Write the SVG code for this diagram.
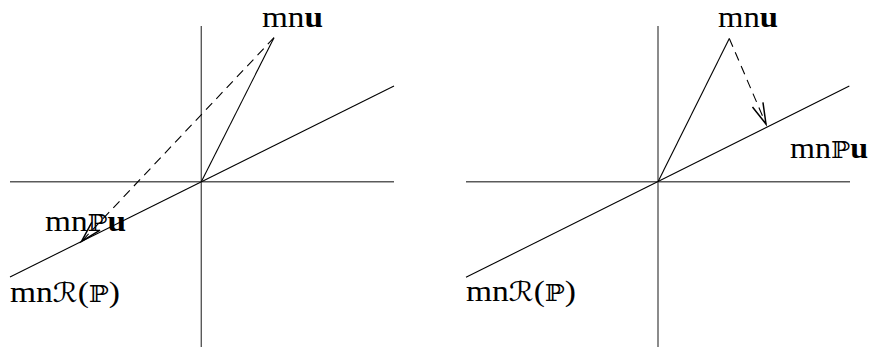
<svg xmlns="http://www.w3.org/2000/svg" width="872" height="347" viewBox="0 0 872 347">
<style>
.axis{stroke:#5a5a5a;stroke-width:1.4;fill:none}
.ln{stroke:#000;stroke-width:1.1;fill:none}
.dash{stroke:#000;stroke-width:1.1;fill:none;stroke-dasharray:9 6}
.lbl{font-family:"Liberation Serif","DejaVu Serif",serif;font-size:29px;fill:#000}
.b{font-weight:bold}
.bb{font-family:"DejaVu Serif","DejaVu Sans",serif;font-size:23px}
.sc{font-family:"DejaVu Serif","DejaVu Sans",serif;font-size:27px;font-style:italic}
</style>
<defs>
<marker id="ah" markerUnits="userSpaceOnUse" markerWidth="30" markerHeight="30" refX="0" refY="0" viewBox="-16 -8 20 16" orient="auto">
<path d="M-14,-3.8 L0,0 L-14,3.8" fill="none" stroke="#000" stroke-width="1"/>
</marker>
</defs>
<g id="panel-left">
<g id="left-axes">
<line class="axis" x1="10" y1="181.7" x2="394" y2="181.7"/>
<line class="axis" x1="201.3" y1="26" x2="201.3" y2="347"/>
</g>
<g id="left-connectors">
<line class="ln" x1="10" y1="277" x2="394" y2="86"/>
<line class="ln" x1="201.3" y1="181.7" x2="274" y2="37.7"/>
<line class="dash" x1="274" y1="37.7" x2="81.5" y2="241.5" marker-end="url(#ah)"/>
</g>
<g id="left-labels">
<text class="lbl" x="262" y="27" textLength="61" lengthAdjust="spacingAndGlyphs">mn<tspan class="b">u</tspan></text>
<text class="lbl" x="45" y="231" textLength="81" lengthAdjust="spacingAndGlyphs">mn<tspan class="bb">ℙ</tspan><tspan class="b">u</tspan></text>
<text class="lbl" x="10" y="302" textLength="110" lengthAdjust="spacingAndGlyphs">mn<tspan class="sc">ℛ</tspan>(<tspan class="bb">ℙ</tspan>)</text>
</g>
</g>
<g id="panel-right">
<g id="right-axes">
<line class="axis" x1="466" y1="181.7" x2="850" y2="181.7"/>
<line class="axis" x1="658" y1="26" x2="658" y2="347"/>
</g>
<g id="right-connectors">
<line class="ln" x1="466" y1="277.3" x2="849.3" y2="86"/>
<line class="ln" x1="658" y1="181.7" x2="729.3" y2="38.5"/>
<line class="dash" x1="729.3" y1="38.5" x2="766" y2="124" marker-end="url(#ah)"/>
</g>
<g id="right-labels">
<text class="lbl" x="718" y="27" textLength="60" lengthAdjust="spacingAndGlyphs">mn<tspan class="b">u</tspan></text>
<text class="lbl" x="790" y="158" textLength="78" lengthAdjust="spacingAndGlyphs">mn<tspan class="bb">ℙ</tspan><tspan class="b">u</tspan></text>
<text class="lbl" x="466" y="301" textLength="110" lengthAdjust="spacingAndGlyphs">mn<tspan class="sc">ℛ</tspan>(<tspan class="bb">ℙ</tspan>)</text>
</g>
</g>
</svg>
